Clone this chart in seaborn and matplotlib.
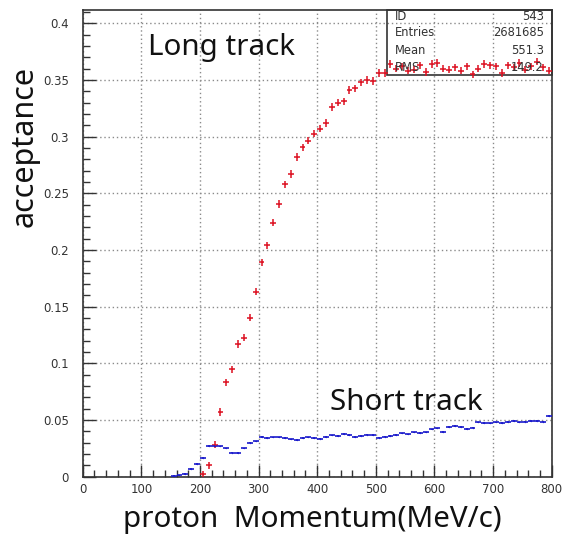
import numpy as np
import pandas as pd
import matplotlib
matplotlib.use("Agg")
import matplotlib.pyplot as plt
from matplotlib.ticker import MultipleLocator, FuncFormatter
import seaborn as sns

# Bin centres (MeV/c), 10 MeV/c bins
long_p = [205, 215, 225, 235, 245, 255, 265, 275, 285, 295,
          305, 315, 325, 335, 345, 355, 365, 375, 385, 395,
          405, 415, 425, 435, 445, 455, 465, 475, 485, 495,
          505, 515, 525, 535, 545, 555, 565, 575, 585, 595,
          605, 615, 625, 635, 645, 655, 665, 675, 685, 695,
          705, 715, 725, 735, 745, 755, 765, 775, 785, 795]
long_acc = [0.002, 0.010, 0.028, 0.057, 0.083, 0.0946, 0.117, 0.1225, 0.140, 0.163,
            0.189, 0.204, 0.224, 0.2405, 0.258, 0.267, 0.282, 0.2905, 0.2965, 0.3025,
            0.307, 0.312, 0.326, 0.330, 0.331, 0.341, 0.3426, 0.348, 0.350, 0.349,
            0.356, 0.356, 0.364, 0.360, 0.362, 0.358, 0.359, 0.363, 0.357, 0.364,
            0.365, 0.360, 0.359, 0.361, 0.358, 0.362, 0.355, 0.360, 0.364, 0.363,
            0.362, 0.356, 0.363, 0.361, 0.365, 0.359, 0.362, 0.366, 0.361, 0.358]

short_p = [155, 165, 175, 185, 195, 205, 215, 225, 235, 245,
           255, 265, 275, 285, 295, 305, 315, 325, 335, 345,
           355, 365, 375, 385, 395, 405, 415, 425, 435, 445,
           455, 465, 475, 485, 495, 505, 515, 525, 535, 545,
           555, 565, 575, 585, 595, 605, 615, 625, 635, 645,
           655, 665, 675, 685, 695, 705, 715, 725, 735, 745,
           755, 765, 775, 785, 795]
short_acc = [0.0003, 0.001, 0.002, 0.0066, 0.011, 0.0165, 0.027, 0.027, 0.0265, 0.0248,
             0.021, 0.0205, 0.0248, 0.030, 0.031, 0.035, 0.034, 0.0345, 0.0345, 0.034,
             0.0328, 0.032, 0.034, 0.0345, 0.034, 0.0335, 0.035, 0.0362, 0.036, 0.0375,
             0.0365, 0.035, 0.0358, 0.037, 0.0365, 0.0343, 0.0352, 0.036, 0.0368, 0.038,
             0.0372, 0.039, 0.0385, 0.039, 0.0415, 0.0425, 0.0392, 0.0435, 0.0447, 0.0435,
             0.042, 0.0432, 0.0477, 0.047, 0.0468, 0.0477, 0.0472, 0.048, 0.0489, 0.0478,
             0.0485, 0.0492, 0.049, 0.0485, 0.0535]

stat_names = ["ID", "Entries", "Mean", "RMS"]
stat_values = ["543", "2681685", "551.3", "149.2"]

long_df = pd.DataFrame({"p": long_p, "acc": long_acc})
short_df = pd.DataFrame({"p": short_p, "acc": short_acc})

sns.set_style("ticks")
plt.rcParams["font.family"] = ["DejaVu Sans"]

W, H = 566, 539
fig = plt.figure(figsize=(W / 100, H / 100), dpi=100)
ax = fig.add_axes([82.7 / W, 1 - 476.5 / H, (551.7 - 82.7) / W, (476.5 - 10) / H])

# histogram-style crosses: full bin width horizontally, error vertically
ax.errorbar(long_df["p"], long_df["acc"], xerr=5, yerr=0.0032, fmt="none",
            ecolor="#dd1020", elinewidth=1.1, zorder=4)
ax.errorbar(short_df["p"], short_df["acc"], xerr=5, yerr=0.0007, fmt="none",
            ecolor="#1a1acc", elinewidth=1.2, zorder=4)
sns.scatterplot(data=long_df, x="p", y="acc", ax=ax, color="#dd1020", s=1,
                linewidth=0, zorder=5, legend=False)
sns.scatterplot(data=short_df, x="p", y="acc", ax=ax, color="#1a1acc", s=1,
                linewidth=0, zorder=5, legend=False)

ax.set_xlim(0, 800)
ax.set_ylim(0, 0.4117)
ax.xaxis.set_major_locator(MultipleLocator(100))
ax.xaxis.set_minor_locator(MultipleLocator(20))
ax.yaxis.set_major_locator(MultipleLocator(0.05))
ax.yaxis.set_minor_locator(MultipleLocator(0.01))
ax.yaxis.set_major_formatter(FuncFormatter(lambda v, _: f"{v:g}"))
ax.xaxis.set_major_formatter(FuncFormatter(lambda v, _: f"{v:g}"))

ax.grid(True, which="major", color="#8a8a8a", linestyle=(0, (1, 2)), linewidth=1.0)
ax.set_axisbelow(True)
ax.tick_params(axis="both", which="major", direction="in", length=9, width=1,
               color="#333333", labelsize=8.5, labelcolor="#333333")
ax.tick_params(axis="both", which="minor", direction="in", length=5, width=1,
               color="#333333")
ax.tick_params(axis="y", which="major", pad=10)
ax.tick_params(axis="x", which="major", pad=5)
for sp in ax.spines.values():
    sp.set_visible(True)
    sp.set_color("#333333")
    sp.set_linewidth(1.2)

ax.set_xlabel("")
ax.set_ylabel("")

# statistics box in the upper right corner
bx0 = (386.7 - 82.7) / (551.7 - 82.7)
by0 = (476.5 - 75) / (476.5 - 10)
ax.add_patch(plt.Rectangle((bx0, by0), 1 - bx0, 1 - by0, transform=ax.transAxes,
                           facecolor="none", edgecolor="#333333", linewidth=1.2,
                           zorder=3, clip_on=False))
row_y = [17, 33, 50, 67]
for name, val, yy in zip(stat_names, stat_values, row_y):
    fig.text(395 / W, 1 - yy / H, name, fontsize=8.3, color="#333333",
             ha="left", va="center", zorder=3)
    fig.text(544 / W, 1 - yy / H, val, fontsize=8.3, color="#333333",
             ha="right", va="center", zorder=3)

label_font = ["Noto Sans", "DejaVu Sans"]
fig.text(148 / W, 1 - 48 / H, "Long track", fontsize=21.3, family=label_font,
         ha="left", va="center", color="#111111")
fig.text(330 / W, 1 - 403 / H, "Short track", fontsize=21.3, family=label_font,
         ha="left", va="center", color="#111111")
fig.text(312 / W, 1 - 520 / H, "proton  Momentum(MeV/c)", fontsize=21.3,
         family=label_font, ha="center", va="center", color="#111111")
fig.text(25 / W, 1 - 146 / H, "acceptance", fontsize=22, family=label_font,
         rotation=90, ha="center", va="center", color="#111111")

fig.savefig("out.png", dpi=100)
